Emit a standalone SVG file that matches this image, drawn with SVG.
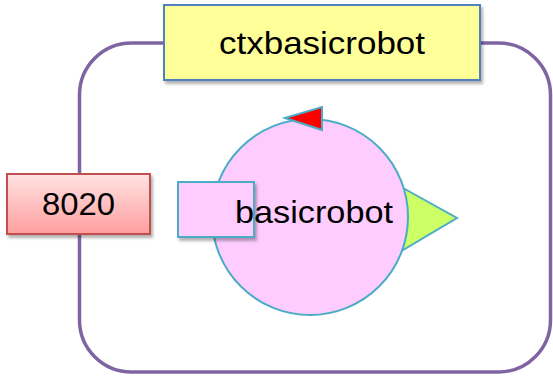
<svg xmlns="http://www.w3.org/2000/svg" width="553" height="376" viewBox="0 0 553 376">
  <defs>
    <linearGradient id="redGrad" x1="0" y1="0" x2="0" y2="1">
      <stop offset="0" stop-color="#FFE3E3"/>
      <stop offset="1" stop-color="#FF9E9E"/>
    </linearGradient>
    <filter id="shadow" x="-10%" y="-10%" width="130%" height="140%">
      <feDropShadow dx="2" dy="3" stdDeviation="1.5" flood-color="#000" flood-opacity="0.3"/>
    </filter>
  </defs>
  <style>
    .lbl { font-family: "Liberation Sans", Arial, sans-serif; font-size: 32px; fill: #000; text-anchor: middle; }
    .teal { stroke: #4BACC6; stroke-width: 2; }
  </style>

  <!-- context boundary -->
  <g id="context-frame">
    <rect x="79.5" y="43" width="471" height="329" rx="52" ry="52" fill="none" stroke="#8064A2" stroke-width="3.5"/>
  </g>

  <g id="ctxbasicrobot">
    <rect x="164" y="5" width="316" height="75" fill="#FFFF99" stroke="#4F81BD" stroke-width="2" filter="url(#shadow)"/>
    <text class="lbl" x="322" y="54" textLength="206" lengthAdjust="spacingAndGlyphs">ctxbasicrobot</text>
  </g>

  <g id="port-8020">
    <rect x="7" y="174" width="143" height="60" fill="url(#redGrad)" stroke="#C0504D" stroke-width="2" filter="url(#shadow)"/>
    <text class="lbl" x="78.5" y="215" textLength="73" lengthAdjust="spacingAndGlyphs">8020</text>
  </g>

  <g id="basicrobot">
    <polygon points="403,188 457,218 403,250" fill="#CCFF66" class="teal"/>
    <circle cx="310" cy="217" r="98" fill="#FFCCFF" class="teal"/>
    <polygon points="285,118 322,107 322,130" fill="#FF0000" class="teal"/>
    <rect x="178" y="182" width="76" height="55" fill="#FFCCFF" class="teal" filter="url(#shadow)"/>
    <text class="lbl" x="314" y="223" textLength="158" lengthAdjust="spacingAndGlyphs">basicrobot</text>
  </g>

  <g id="connectors"></g>
</svg>
